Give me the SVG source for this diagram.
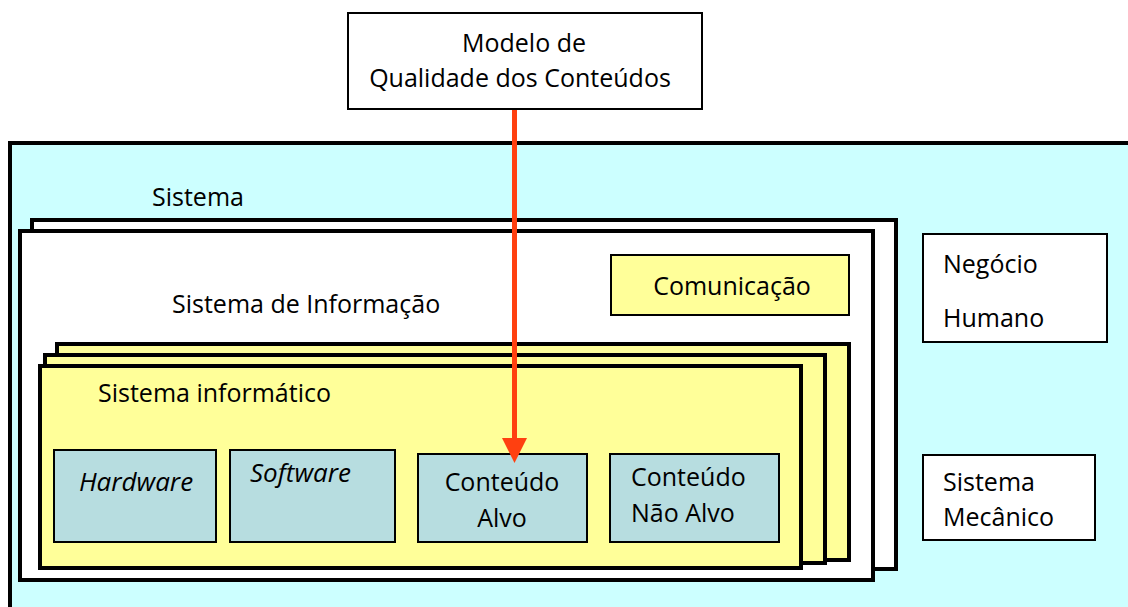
<svg xmlns="http://www.w3.org/2000/svg" width="1128" height="607" viewBox="0 0 1128 607">
<style>
text{font-family:"Open Sans","Liberation Sans",sans-serif;font-size:25px;fill:#000}
.thick{stroke:#000;stroke-width:4}
.thin{stroke:#000;stroke-width:2}
.cyan{fill:#CCFFFF}
.white{fill:#FFFFFF}
.yellow{fill:#FFFF99}
.blue{fill:#B7DDE0}
.c{text-anchor:middle}
.i{font-style:italic;font-size:26px}
</style>
<rect width="1128" height="607" fill="#FFFFFF"/>
<g id="sistema-ambiente">
<rect class="cyan thick" x="10" y="143" width="1130" height="480"/>
</g>
<g id="sistema">
<rect class="white thick" x="32" y="220" width="864" height="349"/>
<text x="152" y="206">Sistema</text>
</g>
<g id="sistema-informacao">
<rect class="white thick" x="20" y="231" width="853" height="349"/>
<text x="172" y="313">Sistema de Informação</text>
</g>
<g id="comunicacao">
<rect class="yellow thin" x="611" y="255" width="238" height="60"/>
<text class="c" x="732" y="295">Comunicação</text>
</g>
<g id="sistema-informatico">
<rect class="yellow thick" x="57" y="344" width="792" height="216"/>
<rect class="yellow thick" x="45" y="355" width="780" height="208"/>
<rect class="yellow thick" x="40" y="366" width="761" height="202"/>
<text x="98" y="402">Sistema informático</text>
</g>
<g id="hardware">
<rect class="blue thin" x="54" y="450" width="162" height="92"/>
<text class="c i" x="136" y="491">Hardware</text>
</g>
<g id="software">
<rect class="blue thin" x="230" y="450" width="165" height="92"/>
<text class="i" x="250" y="482">Software</text>
</g>
<g id="conteudo-alvo">
<rect class="blue thin" x="418" y="454" width="169" height="88"/>
<text class="c" x="502" y="491">Conteúdo</text>
<text class="c" x="502" y="527">Alvo</text>
</g>
<g id="conteudo-nao-alvo">
<rect class="blue thin" x="610" y="454" width="169" height="88"/>
<text x="631" y="486">Conteúdo</text>
<text x="631" y="522">Não Alvo</text>
</g>
<g id="negocio-humano">
<rect class="white thin" x="923" y="234" width="184" height="108"/>
<text x="943" y="273">Negócio</text>
<text x="943" y="327">Humano</text>
</g>
<g id="sistema-mecanico">
<rect class="white thin" x="923" y="455" width="172" height="85"/>
<text x="943" y="491">Sistema</text>
<text x="943" y="526">Mecânico</text>
</g>
<g id="modelo-qualidade">
<rect class="white thin" x="348" y="13" width="354" height="96"/>
<text class="c" x="524" y="52">Modelo de</text>
<text class="c" x="520" y="87">Qualidade dos Conteúdos</text>
</g>
<g id="connectors">
<line x1="514.5" y1="110" x2="514.5" y2="442" stroke="#FF4010" stroke-width="5"/>
<polygon points="502,438 527,438 514.5,463" fill="#FF4010"/>
</g>
</svg>
